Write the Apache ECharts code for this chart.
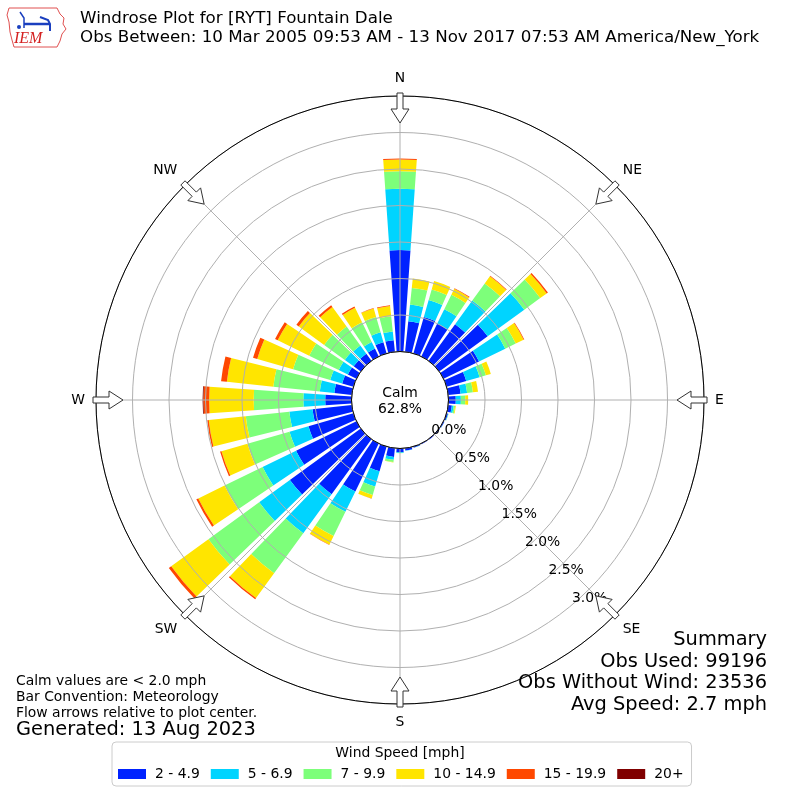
<!DOCTYPE html>
<html><head><meta charset="utf-8">
<script src="https://cdn.jsdelivr.net/npm/echarts@6/dist/echarts.min.js"></script>
<style>html,body{margin:0;padding:0;background:#fff}#c{width:800px;height:800px}</style>
</head><body><div id="c"></div>
<script>
// ---- data ----
const directions = [0,10,20,30,40,50,60,70,80,90,100,110,120,130,140,150,160,170,180,190,200,210,220,230,240,250,260,270,280,290,300,310,320,330,340,350];
const speedBins = ['2 - 4.9','5 - 6.9','7 - 9.9','10 - 14.9','15 - 19.9','20+'];
const speed_2_5   = [1.39,0.42,0.52,0.50,0.62,0.82,0.54,0.28,0.17,0.10,0.05,0.02,0.012,0.01,0.01,0.01,0.015,0.03,0.05,0.12,0.35,0.73,0.93,1.20,0.92,0.64,0.54,0.36,0.24,0.16,0.13,0.12,0.12,0.12,0.16,0.16];
const speed_5_7   = [0.84,0.23,0.24,0.22,0.40,0.62,0.40,0.19,0.09,0.07,0.025,0.005,0.002,0,0,0,0.002,0.005,0.01,0.04,0.22,0.31,0.66,0.52,0.51,0.27,0.32,0.30,0.20,0.17,0.14,0.15,0.14,0.10,0.14,0.12];
const speed_7_10  = [0.24,0.23,0.15,0.22,0.29,0.27,0.16,0.09,0.08,0.06,0.02,0.003,0,0,0,0,0,0,0.005,0.03,0.12,0.37,0.68,0.86,0.58,0.60,0.60,0.68,0.64,0.53,0.45,0.35,0.32,0.30,0.22,0.21];
const speed_10_15 = [0.16,0.13,0.12,0.09,0.12,0.11,0.12,0.07,0.07,0.04,0.01,0,0,0,0,0,0,0,0,0.005,0.05,0.13,0.42,0.63,0.40,0.37,0.51,0.61,0.64,0.51,0.48,0.43,0.33,0.22,0.12,0.14];
const speed_15_20 = [0.015,0,0,0.01,0.01,0.02,0.01,0,0,0,0,0,0,0,0,0,0,0,0,0,0.003,0.005,0.02,0.04,0.03,0.02,0.02,0.08,0.08,0.06,0.04,0.04,0.03,0.02,0.005,0.01];
const speed_20p   = [0,0,0,0,0,0,0,0,0,0,0,0,0,0,0,0,0,0,0,0,0,0,0,0,0,0,0,0.01,0,0,0,0,0,0,0,0];
const radialTicks = [0,0.5,1.0,1.5,2.0,2.5,3.0];
const compassLabels = ['N','NE','E','SE','S','SW','W','NW'];
const calmPercent = '62.8%';
const summaryLines = ['Summary','Obs Used: 99196','Obs Without Wind: 23536','Avg Speed: 2.7 mph'];
const noteLines = ['Calm values are < 2.0 mph','Bar Convention: Meteorology','Flow arrows relative to plot center.'];

// ---- styles ----
const binColors = ['#0022ff','#00d4ff','#7dff7a','#ffe500','#ff4800','#800000'];
const FONT = 'DejaVu Sans';
const FS = 13.9;
const CX = 400, CY = 400, R0 = 48.5, R1 = 304, RMAX = 3.5;

const chart = echarts.init(document.getElementById('c'), null, {renderer:'canvas'});
const seriesData = [speed_2_5, speed_5_7, speed_7_10, speed_10_15, speed_15_20, speed_20p];

const series = speedBins.map((name, i) => ({
  name, type:'bar', coordinateSystem:'polar', polarIndex:1, stack:'total',
  data: seriesData[i], barCategoryGap:'20%', z:2,
  itemStyle:{color:binColors[i]}, emphasis:{disabled:true}
}));

// arrows (decoration) pointing to plot center
const graphics = [];
compassLabels.forEach((lab, k) => {
  const b = k*45*Math.PI/180;
  const ux = -Math.sin(b), uy = Math.cos(b); // inward
  const px = -uy, py = ux;
  const tail = 307;
  const bx = CX + tail*Math.sin(b), by = CY - tail*Math.cos(b);
  const loc = [[0,-3],[16,-3],[16,-9],[30,0],[16,9],[16,3],[0,3]];
  const pts = loc.map(([a,c]) => [bx + a*ux + c*px, by + a*uy + c*py]);
  graphics.push({type:'polygon', z:20, shape:{points:pts}, style:{fill:'#fff', stroke:'#333', lineWidth:1}});
});
// calm label
graphics.push({type:'text', z:20, style:{text:'Calm\n'+calmPercent, x:CX, y:CY+1, align:'center', verticalAlign:'middle', font:FS+'px "DejaVu Sans"', lineHeight:16, fill:'#000'}});
// notes
noteLines.forEach((t,i)=>graphics.push({type:'text', z:20, style:{text:t, x:16, y:681+i*16, verticalAlign:'middle', font:FS+'px "DejaVu Sans"', fill:'#000'}}));
graphics.push({type:'text', z:20, style:{text:'Generated: 13 Aug 2023', x:16, y:730, verticalAlign:'middle', font:'19.4px "DejaVu Sans"', fill:'#000'}});
summaryLines.forEach((t,i)=>graphics.push({type:'text', z:20, style:{text:t, x:767, y:640+i*21.7, align:'right', verticalAlign:'middle', font:'19.4px "DejaVu Sans"', fill:'#000'}}));
// legend title
graphics.push({type:'text', z:20, style:{text:'Wind Speed [mph]', x:400, y:753, align:'center', verticalAlign:'middle', font:FS+'px "DejaVu Sans"', fill:'#000'}});
// logo (simplified)
graphics.push({type:'polyline', z:20, shape:{points:[[9,8],[57,8],[60,14],[64,18],[63,24],[66,29],[62,34],[60,41],[57,47],[14,47],[12,40],[10,32],[9,22],[7,15],[9,8]]}, style:{stroke:'#e05050', fill:'none', lineWidth:1}});
graphics.push({type:'text', z:20, style:{text:'IEM', x:14, y:39, verticalAlign:'middle', font:'italic 16px "Liberation Serif"', fill:'#d42020'}});
graphics.push({type:'polyline', z:20, shape:{points:[[24,24],[50,24]]}, style:{stroke:'#1a3fbf', lineWidth:2.5}});
graphics.push({type:'polyline', z:20, shape:{points:[[20,12],[24,18],[24,28]]}, style:{stroke:'#1a3fbf', lineWidth:1.5}});
graphics.push({type:'polyline', z:20, shape:{points:[[40,17],[48,20],[50,24],[50,31]]}, style:{stroke:'#1a3fbf', lineWidth:2}});
graphics.push({type:'circle', z:20, shape:{cx:19, cy:27, r:2}, style:{fill:'#1a3fbf'}});

const option = {
  animation:false,
  backgroundColor:'#fff',
  textStyle:{fontFamily:FONT},
  title:{left:80, top:9, padding:0, text:'Windrose Plot for [RYT] Fountain Dale\nObs Between: 10 Mar 2005 09:53 AM - 13 Nov 2017 07:53 AM America/New_York',
    textStyle:{fontFamily:FONT, fontSize:16.7, fontWeight:'normal', color:'#000', lineHeight:19}},
  polar:[
    {center:[CX,CY], radius:[R0,R1]},
    {center:[CX,CY], radius:[R0,R1]},
    {center:[CX,CY], radius:[R0,R1]}
  ],
  angleAxis:[
    {polarIndex:0, type:'value', min:0, max:360, interval:45, startAngle:90, clockwise:true, z:6,
      axisLine:{show:true, lineStyle:{color:'#000', width:1}}, axisTick:{show:false},
      axisLabel:{show:true, margin:11, fontSize:FS, color:'#000', fontFamily:FONT, formatter:v => (v<360 ? compassLabels[Math.round(v/45)] : '')},
      splitLine:{show:true, lineStyle:{color:'#b0b0b0', width:1}}},
    {polarIndex:1, type:'category', data:directions.map(String), startAngle:95, clockwise:true,
      axisLine:{show:false}, axisTick:{show:false}, axisLabel:{show:false}, splitLine:{show:false}},
    {polarIndex:2, type:'value', min:0, max:360, startAngle:-50, clockwise:true,
      axisLine:{show:false}, axisTick:{show:false}, axisLabel:{show:false}, splitLine:{show:false}}
  ],
  radiusAxis:[
    {polarIndex:0, type:'value', min:0, max:RMAX, interval:0.5, z:5,
      axisLine:{show:false}, axisTick:{show:false}, axisLabel:{show:false},
      splitLine:{show:true, lineStyle:{color:'#b0b0b0', width:1}}},
    {polarIndex:1, type:'value', min:0, max:RMAX,
      axisLine:{show:false}, axisTick:{show:false}, axisLabel:{show:false}, splitLine:{show:false}},
    {polarIndex:2, type:'value', min:0, max:RMAX, interval:0.5, z:7,
      axisLine:{show:false}, axisTick:{show:false}, splitLine:{show:false},
      axisLabel:{show:true, margin:0, align:'left', verticalAlign:'bottom', fontSize:FS, color:'#000', fontFamily:FONT,
        formatter:v => (radialTicks.some(t=>Math.abs(t-v)<1e-6) ? v.toFixed(1)+'%' : '')}}
  ],
  legend:{left:112, top:742, padding:[25,8,5,6], orient:'horizontal',
    borderColor:'#cccccc', borderWidth:1, borderRadius:4,
    itemWidth:28, itemHeight:10, itemGap:11, icon:'rect', selectedMode:false,
    textStyle:{fontSize:FS, color:'#000', fontFamily:FONT, padding:[0,0,0,4]},
    data:speedBins},
  graphic:graphics,
  series
};
chart.setOption(option);
</script></body></html>
